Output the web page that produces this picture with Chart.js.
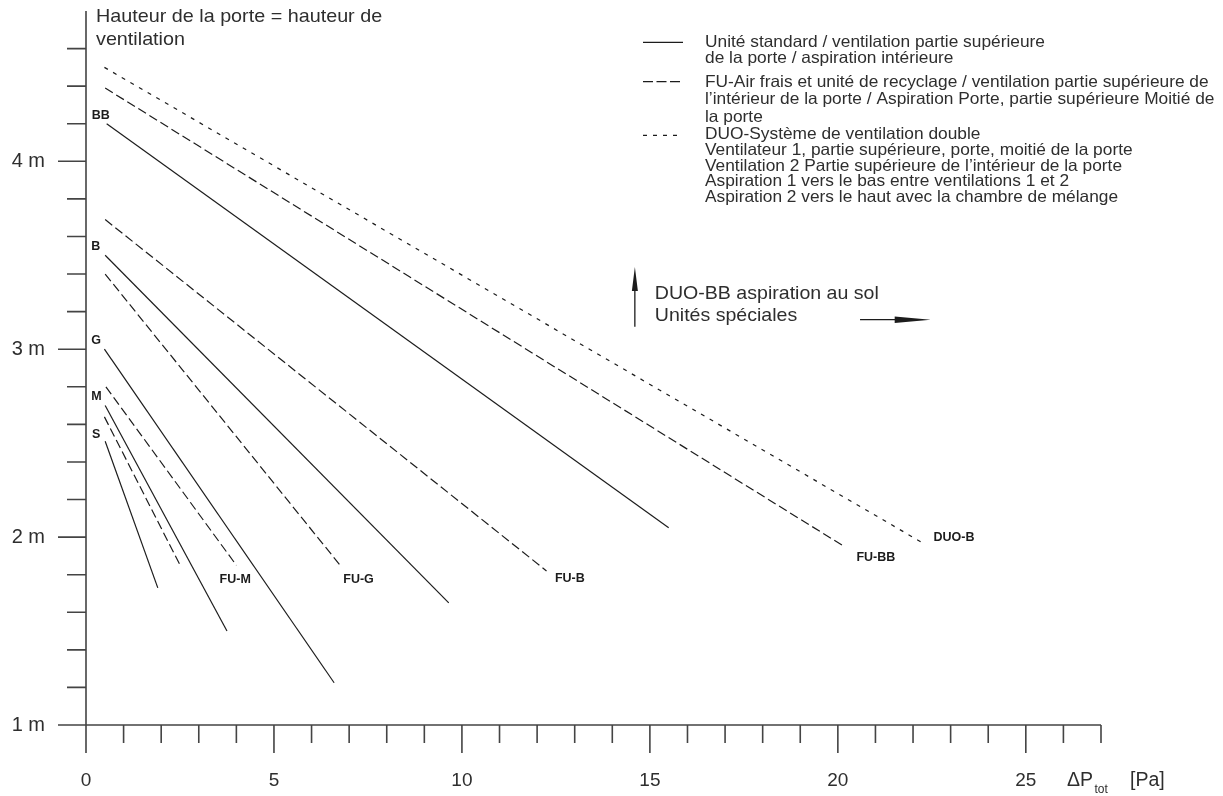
<!DOCTYPE html>
<html><head><meta charset="utf-8">
<script src="https://cdn.jsdelivr.net/npm/chart.js@4.4.1/dist/chart.umd.min.js"></script>
<style>html,body{margin:0;padding:0;background:#fff}#wrap{width:1223px;height:796px;position:relative}canvas{display:block}</style>
</head><body><div id="wrap"><canvas id="c" width="1223" height="796"></canvas></div>
<script>
// ---- data (ΔP_tot in Pa, door height in m) ----
const unitTypes   = ['BB', 'B', 'G', 'M', 'S'];
const stdStartDp  = [0.55, 0.51, 0.49, 0.51, 0.51];
const stdStartH   = [4.20, 3.50, 3.00, 2.70, 2.51];
const stdEndDp    = [15.5, 9.65, 6.60, 3.75, 1.91];
const stdEndH     = [2.05, 1.65, 1.225, 1.50, 1.73];

const fuTypes     = ['FU-BB', 'FU-B', 'FU-G', 'FU-M', 'FU-S'];
const fuStartDp   = [0.51, 0.51, 0.51, 0.53, 0.49];
const fuStartH    = [4.39, 3.69, 3.40, 2.80, 2.64];
const fuEndDp     = [20.17, 12.25, 6.76, 4.00, 2.53];
const fuEndH      = [1.95, 1.82, 1.85, 1.85, 1.84];

const duoTypes    = ['DUO-B'];
const duoStartDp  = [0.49];
const duoStartH   = [4.50];
const duoEndDp    = [22.25];
const duoEndH     = [1.97];

const xTickLabels = ['0', '5', '10', '15', '20', '25'];
const yTickLabels = ['1 m', '2 m', '3 m', '4 m'];

const titleLines = ['Hauteur de la porte = hauteur de', 'ventilation'];
const legendGroups = [
  ['Unité standard / ventilation partie supérieure', 'de la porte / aspiration intérieure'],
  ['FU-Air frais et unité de recyclage / ventilation partie supérieure de', 'l\u2019intérieur de la porte / Aspiration Porte, partie supérieure Moitié de', 'la porte'],
  ['DUO-Système de ventilation double', 'Ventilateur 1, partie supérieure, porte, moitié de la porte', 'Ventilation 2 Partie supérieure de l\u2019intérieur de la porte', 'Aspiration 1 vers le bas entre ventilations 1 et 2', 'Aspiration 2 vers le haut avec la chambre de mélange']
];
const noteLines = ['DUO-BB aspiration au sol', 'Unités spéciales'];

// ---- styles ----
const FONT = "'Liberation Sans', Arial, Helvetica, sans-serif";
const INK = '#1c1c1c';
const TXT = '#2e2e2e';
const DASH_FU = [9, 4];
const DASH_DUO = [4, 6];

// line-end labels (data coordinates)
const curveLabels = [
  {t: 'BB', x: 0.39, y: 4.245}, {t: 'B', x: 0.26, y: 3.549}, {t: 'G', x: 0.27, y: 3.048},
  {t: 'M', x: 0.28, y: 2.746}, {t: 'S', x: 0.27, y: 2.546},
  {t: 'FU-M', x: 3.97, y: 1.775}, {t: 'FU-G', x: 7.25, y: 1.776}, {t: 'FU-B', x: 12.87, y: 1.777},
  {t: 'FU-BB', x: 21.01, y: 1.892}, {t: 'DUO-B', x: 23.09, y: 1.998}
];

function seg(x0, y0, x1, y1) { return [{x: x0, y: y0}, {x: x1, y: y1}]; }
const datasets = [];
unitTypes.forEach((t, i) => datasets.push({label: t, data: seg(stdStartDp[i], stdStartH[i], stdEndDp[i], stdEndH[i]), borderDash: []}));
fuTypes.forEach((t, i) => datasets.push({label: t, data: seg(fuStartDp[i], fuStartH[i], fuEndDp[i], fuEndH[i]), borderDash: DASH_FU}));
duoTypes.forEach((t, i) => datasets.push({label: t, data: seg(duoStartDp[i], duoStartH[i], duoEndDp[i], duoEndH[i]), borderDash: DASH_DUO}));
datasets.forEach(d => Object.assign(d, {showLine: true, pointRadius: 0, borderColor: INK, borderWidth: 1.2, borderCapStyle: 'butt', fill: false, tension: 0}));

function sText(ctx, s, x, y, sx) {
  ctx.save(); ctx.translate(x, y); ctx.scale(sx, 1); ctx.fillText(s, 0, 0); ctx.restore();
}

const decor = {
  id: 'decor',
  afterDraw(chart) {
    const ctx = chart.ctx, xs = chart.scales.x, ys = chart.scales.y;
    const X = v => xs.getPixelForValue(v), Y = v => ys.getPixelForValue(v);
    ctx.save();
    // axes
    ctx.strokeStyle = '#444'; ctx.lineWidth = 1.6; ctx.setLineDash([]);
    ctx.beginPath();
    ctx.moveTo(X(0), Y(ys.max)); ctx.lineTo(X(0), Y(1));
    ctx.moveTo(X(0), Y(1)); ctx.lineTo(X(xs.max), Y(1));
    for (let i = 0; i <= xs.max; i++) {
      const len = i % 5 === 0 ? 28 : 18;
      ctx.moveTo(X(i), Y(1)); ctx.lineTo(X(i), Y(1) + len);
    }
    for (let k = 0; k <= 18; k++) {
      const v = 1 + k * 0.2;
      const len = k % 5 === 0 ? 28 : 19;
      ctx.moveTo(X(0), Y(v)); ctx.lineTo(X(0) - len, Y(v));
    }
    ctx.stroke();

    // title
    ctx.fillStyle = TXT; ctx.textAlign = 'left'; ctx.textBaseline = 'alphabetic';
    ctx.font = '19px ' + FONT;
    sText(ctx, titleLines[0], X(0) + 10, 22, 1.04);
    sText(ctx, titleLines[1], X(0) + 10, 45, 1.04);

    // legend
    const lx0 = 643, lx1 = 683, tx = 705;
    const lineYs = [42.3, 81.7, 135.3];
    const baseYs = [[47, 62.5], [87, 103.5, 121.5], [139, 155, 170.5, 186, 201.5]];
    const dashes = [[], [10, 3.5], DASH_DUO];
    ctx.strokeStyle = INK; ctx.lineWidth = 1.2;
    lineYs.forEach((ly, g) => {
      ctx.setLineDash(dashes[g]);
      ctx.beginPath(); ctx.moveTo(lx0, ly); ctx.lineTo(lx1, ly); ctx.stroke();
    });
    ctx.setLineDash([]);
    ctx.font = '16.5px ' + FONT; ctx.fillStyle = TXT;
    legendGroups.forEach((grp, g) => grp.forEach((s, j) => sText(ctx, s, tx, baseYs[g][j], 1.05)));

    // curve labels
    ctx.font = 'bold 12.5px ' + FONT; ctx.fillStyle = INK;
    ctx.textAlign = 'center'; ctx.textBaseline = 'middle';
    curveLabels.forEach(l => ctx.fillText(l.t, X(l.x), Y(l.y)));

    // note with arrows
    ctx.textAlign = 'left'; ctx.textBaseline = 'alphabetic';
    ctx.font = '19px ' + FONT; ctx.fillStyle = TXT;
    sText(ctx, noteLines[0], X(15.13), Y(3.266), 1.03);
    sText(ctx, noteLines[1], X(15.13), Y(3.150), 1.03);
    ctx.strokeStyle = INK; ctx.fillStyle = INK; ctx.lineWidth = 1.3;
    // up arrow
    const ax = X(14.60), ay0 = Y(3.119), ay1 = Y(3.438);
    ctx.beginPath(); ctx.moveTo(ax, ay0); ctx.lineTo(ax, ay1 + 20); ctx.stroke();
    ctx.beginPath(); ctx.moveTo(ax, ay1); ctx.lineTo(ax - 3, ay1 + 24); ctx.lineTo(ax + 3, ay1 + 24); ctx.closePath(); ctx.fill();
    // right arrow
    const rx0 = X(20.59), rx1 = X(22.47), ry = Y(3.157);
    ctx.beginPath(); ctx.moveTo(rx0, ry); ctx.lineTo(rx1 - 30, ry); ctx.stroke();
    ctx.beginPath(); ctx.moveTo(rx1, ry); ctx.lineTo(rx1 - 36, ry - 3.3); ctx.lineTo(rx1 - 36, ry + 3.3); ctx.closePath(); ctx.fill();

    // x axis title
    ctx.fillStyle = TXT;
    const tx0 = X(xs.max) - 34;
    ctx.font = '19.5px ' + FONT;
    ctx.fillText('\u0394P', tx0, 786);
    ctx.font = '12px ' + FONT;
    ctx.fillText('tot', tx0 + 27.5, 793);
    ctx.font = '19.5px ' + FONT;
    ctx.fillText('[Pa]', tx0 + 63, 786);
    ctx.restore();
  }
};

new Chart(document.getElementById('c'), {
  type: 'scatter',
  data: {datasets},
  options: {
    responsive: false, animation: false, devicePixelRatio: 1,
    layout: {padding: {top: 11, right: 122, left: 0, bottom: 0}},
    plugins: {legend: {display: false}, tooltip: {enabled: false}},
    scales: {
      x: {
        type: 'linear', min: 0, max: 27,
        afterFit(s) { s.height = 71; s.paddingLeft = 0; s.paddingRight = 0; s.paddingTop = 0; s.paddingBottom = 0; },
        grid: {display: false, drawTicks: false}, border: {display: false},
        ticks: {stepSize: 5, includeBounds: false, autoSkip: false, maxRotation: 0, padding: 44,
          color: TXT, font: {family: FONT, size: 19}, callback: (v, i) => xTickLabels[i]}
      },
      y: {
        type: 'linear', min: 1, max: 4.8,
        afterFit(s) { s.width = 86; s.paddingTop = 0; s.paddingBottom = 0; s.paddingLeft = 0; s.paddingRight = 0; },
        grid: {display: false, drawTicks: false}, border: {display: false},
        ticks: {stepSize: 1, includeBounds: false, autoSkip: false, padding: 41,
          color: TXT, font: {family: FONT, size: 20}, callback: (v, i) => yTickLabels[i]}
      }
    }
  },
  plugins: [decor]
});
</script></body></html>
